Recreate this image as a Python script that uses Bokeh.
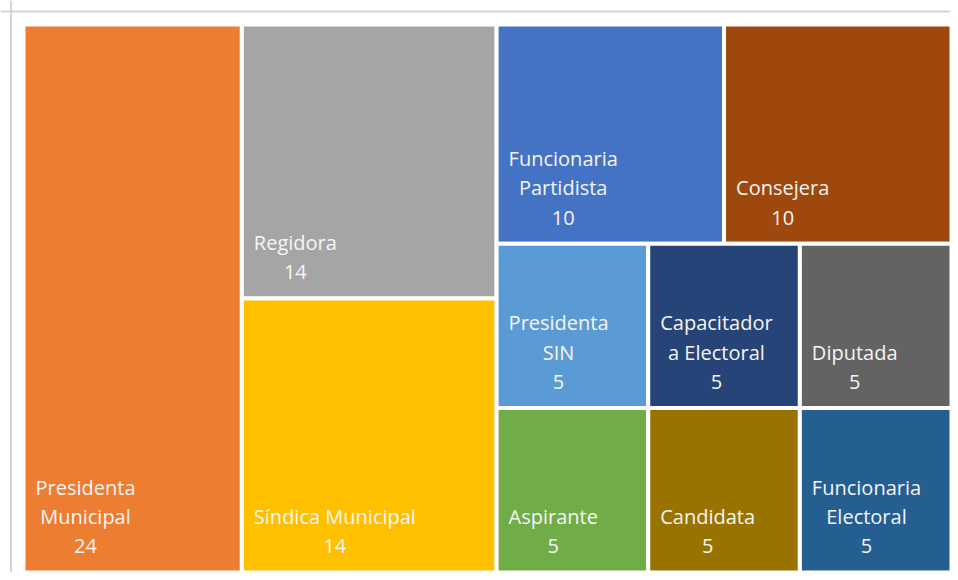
from bokeh.plotting import figure
from bokeh.models import Range1d, ColumnDataSource, Span
from bokeh.core.properties import value
from bokeh.embed import file_html
from bokeh.resources import INLINE
import math

# ---- data ----
categories = ["Presidenta\nMunicipal", "Regidora", "Síndica Municipal",
              "Funcionaria\nPartidista", "Consejera",
              "Presidenta\nSIN", "Capacitador\na Electoral", "Diputada",
              "Aspirante", "Candidata", "Funcionaria\nElectoral"]
counts = [24, 14, 14, 10, 10, 5, 5, 5, 5, 5, 5]
colors = ["#ED7D31", "#A5A5A5", "#FFC000", "#4472C4", "#9E480E",
          "#5B9BD5", "#264478", "#636363", "#70AD47", "#997300", "#255E91"]

# ---- treemap layout computed from the counts ----
X0, Y0, W, H = 23.0, 24.0, 928.0, 548.0

groups = []
for i, v in enumerate(counts):
    if groups and counts[groups[-1][0]] == v:
        groups[-1].append(i)
    else:
        groups.append([i])

rects = [None] * len(counts)
x, y, w, h = X0, Y0, W, H
remaining = float(sum(counts))
for gi, g in enumerate(groups):
    gs = float(sum(counts[i] for i in g))
    if gi == len(groups) - 1:
        n = len(g)
        ncols = max(1, round(math.sqrt(n * w / h)))
        nrows = math.ceil(n / ncols)
        cw, ch = w / ncols, h / nrows
        for k, i in enumerate(g):
            r, c = divmod(k, ncols)
            rects[i] = (x + c * cw, x + (c + 1) * cw, y + r * ch, y + (r + 1) * ch)
        break
    if w >= h:
        sw = w * gs / remaining
        cy = y
        for i in g:
            ih = h * counts[i] / gs
            rects[i] = (x, x + sw, cy, cy + ih)
            cy += ih
        x += sw
        w -= sw
    else:
        sh = h * gs / remaining
        cx = x
        for i in g:
            iw = w * counts[i] / gs
            rects[i] = (cx, cx + iw, y, y + sh)
            cx += iw
        y += sh
        h -= sh
    remaining -= gs

src = ColumnDataSource(dict(
    left=[r[0] for r in rects], right=[r[1] for r in rects],
    top=[r[2] for r in rects], bottom=[r[3] for r in rects],
    color=colors,
    lx=[r[0] + 12 for r in rects], ly=[r[3] - 13 for r in rects],
    label=[f"{c}\n{v}" for c, v in zip(categories, counts)],
))

p = figure(width=950, height=572, output_backend="svg", toolbar_location=None,
           x_range=Range1d(0, 950), y_range=Range1d(572, 0),
           x_axis_location=None, y_axis_location=None,
           min_border_left=0, min_border_top=0, min_border_right=0, min_border_bottom=0)
p.grid.visible = False
p.outline_line_color = None
p.background_fill_color = "white"
p.border_fill_color = "white"

p.add_layout(Span(location=10.5, dimension="height", line_color="#D4D4D4", line_width=2))
p.add_layout(Span(location=11, dimension="width", line_color="#D4D4D4", line_width=2))

p.quad(left="left", right="right", top="top", bottom="bottom", source=src,
       fill_color="color", line_color="white", line_width=4)
p.text(x="lx", y="ly", text="label", source=src, anchor="bottom_left",
       text_align="center", text_color="#F5F5F5",
       text_font=value("Open Sans"), text_font_size="20px", text_line_height=1.09)

open("out.html", "w").write(file_html(p, INLINE))
